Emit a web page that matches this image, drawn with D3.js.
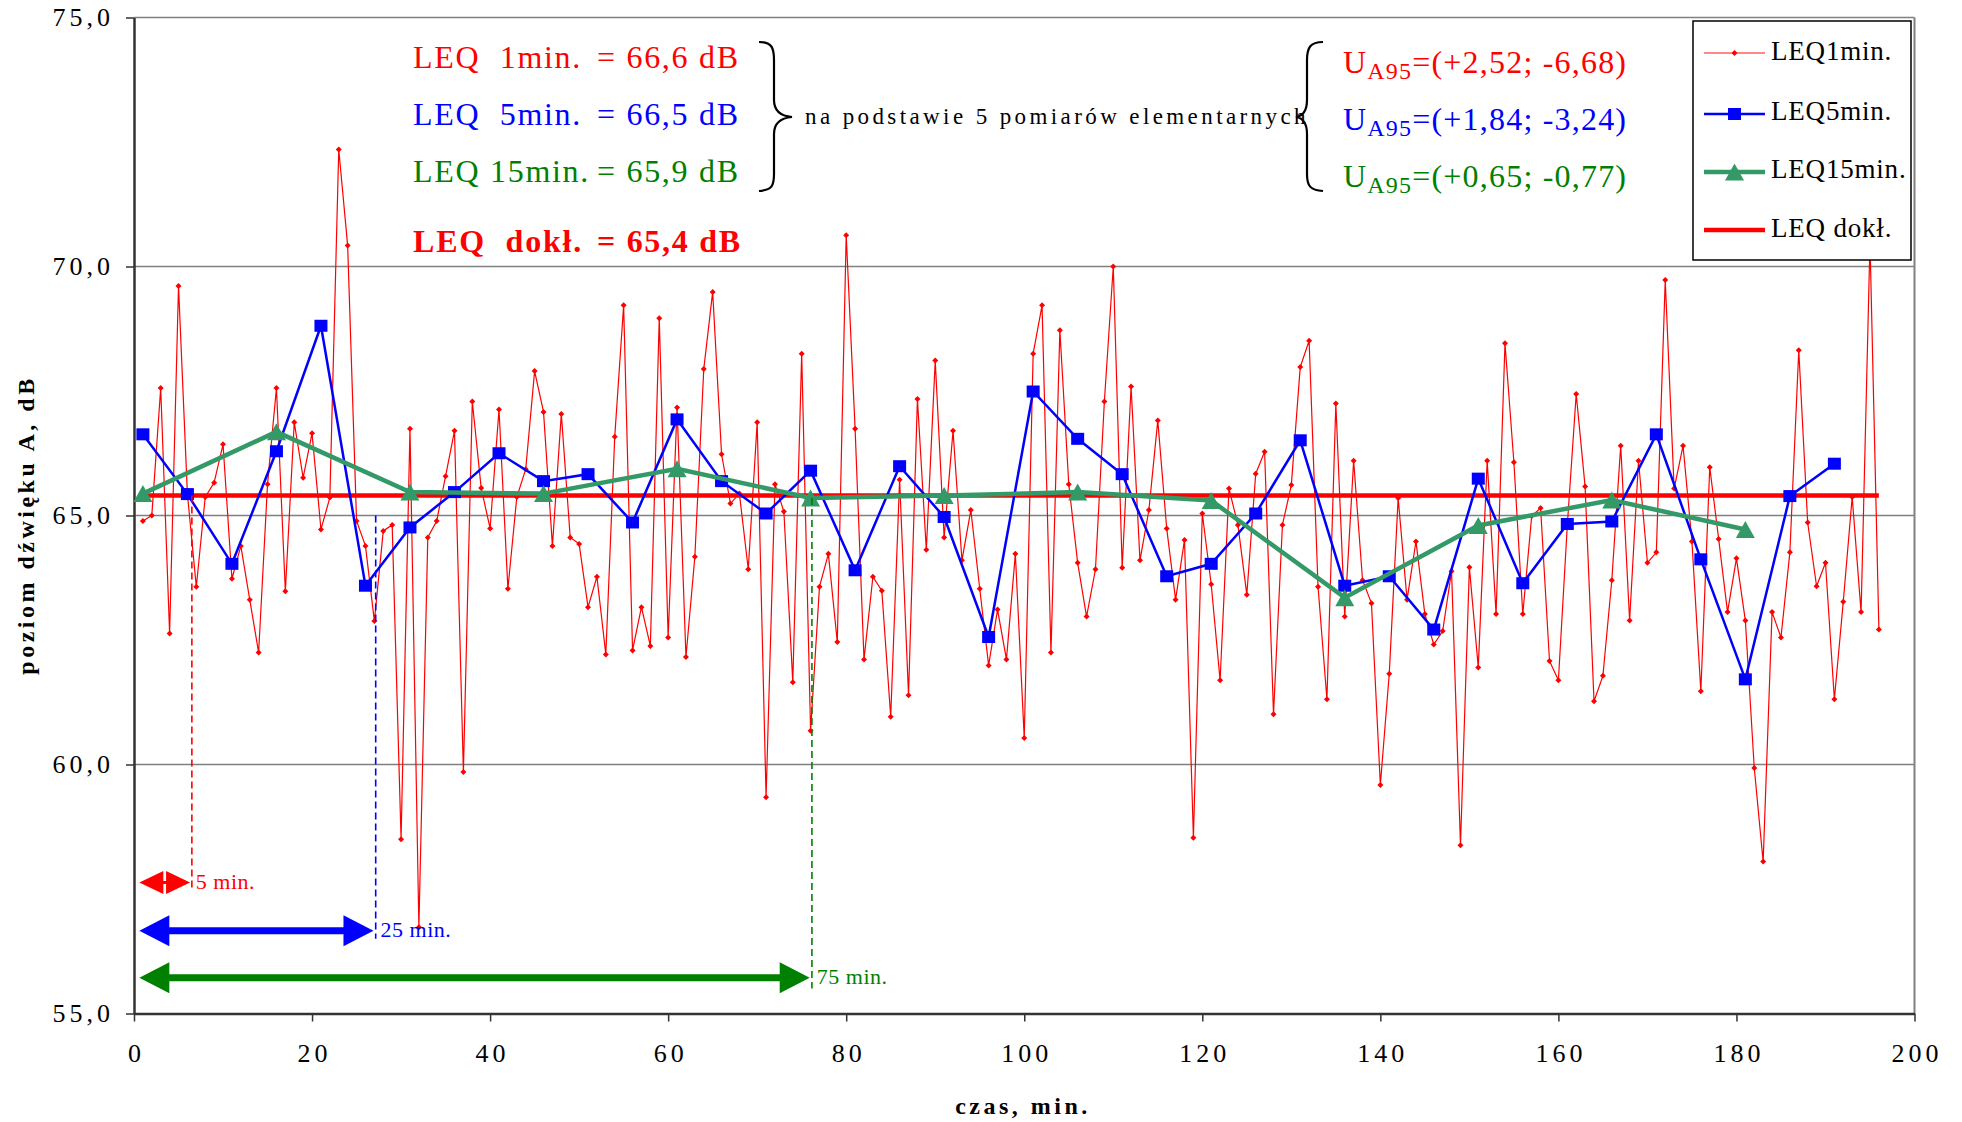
<!DOCTYPE html>
<html><head><meta charset="utf-8">
<script src="https://cdnjs.cloudflare.com/ajax/libs/d3/7.8.5/d3.min.js"></script>
<style>
html,body{margin:0;padding:0;background:#fff;}
svg{display:block;}
text{font-family:"Liberation Serif","Times New Roman",serif;white-space:pre;}
</style></head><body>
<svg id="c" width="1962" height="1122"></svg>
<script>
// ---------------- DATA ----------------
// LEQ 1 min. values, minutes 1..196
const leq1Values = [
64.89,65.00,67.56,62.63,69.61,65.43,63.57,65.37,65.66,66.43,
63.73,64.39,63.31,62.25,65.63,67.56,63.48,66.87,65.76,66.65,
64.72,65.36,72.35,70.42,64.89,64.39,62.88,64.69,64.81,58.50,
66.74,56.73,64.56,64.89,65.79,66.70,59.85,67.29,65.55,64.74,
67.13,63.53,65.37,65.93,67.90,67.08,64.39,67.04,64.56,64.43,
63.16,63.77,62.21,66.58,69.22,62.29,63.16,62.38,68.96,62.55,
67.17,62.16,64.17,67.94,69.49,66.23,65.24,65.44,63.92,66.87,
59.34,65.63,65.08,61.65,68.25,60.68,63.57,64.23,62.46,70.63,
66.74,62.11,63.77,63.49,60.96,65.72,61.39,67.34,64.31,68.11,
64.56,66.70,64.10,65.11,63.53,61.99,63.11,62.11,64.23,60.53,
68.25,69.22,62.25,68.72,65.63,64.05,62.97,63.92,67.29,70.00,
63.95,67.59,64.10,65.11,66.91,64.74,63.31,64.51,58.53,65.04,
63.62,61.69,65.54,64.81,63.41,65.84,66.28,61.01,64.81,65.61,
67.98,68.51,63.57,61.31,67.25,62.97,66.10,63.70,63.24,59.59,
61.82,65.35,63.31,64.48,63.02,62.41,62.68,63.88,58.38,63.96,
61.95,66.10,63.02,68.46,66.07,63.02,64.99,65.15,62.08,61.69,
64.80,67.44,65.58,61.27,61.78,63.70,66.40,62.89,66.10,64.05,
64.26,69.73,65.54,66.40,64.48,61.47,65.97,64.53,63.06,64.14,
62.89,59.93,58.05,63.06,62.55,64.26,68.32,64.86,63.58,64.05,
61.31,63.27,65.37,63.06,70.50,62.71];
const leq1FirstMinute = 1;

// LEQ 5 min.
const leq5Minutes = [1,6,11,16,21,26,31,36,41,46,51,56,61,66,71,76,81,86,91,96,101,106,111,116,121,126,131,136,141,146,151,156,161,166,171,176,181,186,191];
const leq5Values  = [66.63,65.43,64.03,66.29,68.81,63.59,64.76,65.47,66.25,65.69,65.83,64.86,66.93,65.69,65.04,65.90,63.90,65.99,64.97,62.56,67.49,66.54,65.83,63.78,64.03,65.04,66.51,63.59,63.78,62.71,65.74,63.64,64.83,64.88,66.63,64.12,61.71,65.39,66.04];

// LEQ 15 min.
const leq15Minutes = [1,16,31,46,61,76,91,106,121,136,151,166,181];
const leq15Values  = [65.44,66.68,65.47,65.44,65.94,65.35,65.40,65.47,65.30,63.35,64.80,65.31,64.72];

// LEQ dokł.
const leqExact = 65.4;
const leqExactRange = [1,196];

// axes
const yTicks = [55,60,65,70,75];
const xTicks = [0,20,40,60,80,100,120,140,160,180,200];
const xTitle = "czas, min.";
const yTitle = "poziom dźwięku A, dB";

const legendLabels = ["LEQ1min.","LEQ5min.","LEQ15min.","LEQ dokł."];
const summaryLabels = ["LEQ  1min.","LEQ  5min.","LEQ 15min.","LEQ  dokł."];
const summaryValues = ["= 66,6 dB","= 66,5 dB","= 65,9 dB","= 65,4 dB"];
const braceText = "na podstawie 5 pomiarów elementarnych";
const uncertainties = ["=(+2,52; -6,68)","=(+1,84; -3,24)","=(+0,65; -0,77)"];
const intervalLabels = ["5 min.","25 min.","75 min."];

// ---------------- DRAW ----------------
const RED="#ff0000", BLUE="#0000ff", GREEN="#339966", TGREEN="#008000";
const svg = d3.select('#c');
const x = d3.scaleLinear().domain([0,200]).range([134,1914.5]);
const y = d3.scaleLinear().domain([55,75]).range([1013.5,17.5]);
const fmt = d => d.toFixed(1).replace('.', ',');

// grid
svg.append('g').selectAll('line').data(yTicks.filter(v=>v>55)).join('line')
  .attr('x1',x(0)).attr('x2',x(200)).attr('y1',d=>y(d)).attr('y2',d=>y(d))
  .attr('stroke','#808080').attr('stroke-width',1.3);
svg.append('line').attr('x1',x(200)).attr('x2',x(200)).attr('y1',y(75)).attr('y2',y(55))
  .attr('stroke','#808080').attr('stroke-width',2);

// axes
const gy = svg.append('g').attr('transform',`translate(${x(0)},0)`)
  .call(d3.axisLeft(y).tickValues(yTicks).tickFormat(fmt).tickSize(8).tickSizeOuter(0).tickPadding(12));
const gx = svg.append('g').attr('transform',`translate(0,${y(55)})`)
  .call(d3.axisBottom(x).tickValues(xTicks).tickFormat(d=>d).tickSize(8).tickSizeOuter(0).tickPadding(22));
[gx,gy].forEach(g=>{
  g.select('.domain').attr('stroke','#333').attr('stroke-width',2.5);
  g.selectAll('.tick line').attr('stroke','#333').attr('stroke-width',1.5);
  g.selectAll('.tick text').attr('font-family','"Liberation Serif","Times New Roman",serif')
    .attr('font-size',26).attr('letter-spacing',4).attr('fill','#000');
});
gx.selectAll('.tick text').attr('dx',2);

// axis titles
svg.append('text').attr('x',1023).attr('y',1114).attr('text-anchor','middle')
  .attr('font-size',24).attr('font-weight','bold').attr('letter-spacing',3.5).text(xTitle);
svg.append('text').attr('transform','translate(34,525) rotate(-90)').attr('text-anchor','middle')
  .attr('font-size',24).attr('font-weight','bold').attr('letter-spacing',3.5).text(yTitle);

// LEQ dokł. line
svg.append('line').attr('x1',x(leqExactRange[0])).attr('x2',x(leqExactRange[1]))
  .attr('y1',y(leqExact)).attr('y2',y(leqExact)).attr('stroke',RED).attr('stroke-width',4.5);

// LEQ 1 min
const line1 = d3.line().x((d,i)=>x(leq1FirstMinute+i)).y(d=>y(d));
svg.append('path').attr('d',line1(leq1Values)).attr('fill','none').attr('stroke',RED).attr('stroke-width',1.2);
const diamond = 'M0,-3L3,0L0,3L-3,0Z';
svg.append('g').selectAll('path').data(leq1Values).join('path')
  .attr('d',diamond).attr('transform',(d,i)=>`translate(${x(leq1FirstMinute+i)},${y(d)})`).attr('fill',RED);

// LEQ 5 min
const pts5 = leq5Minutes.map((m,i)=>[m,leq5Values[i]]);
const lineXY = d3.line().x(d=>x(d[0])).y(d=>y(d[1]));
svg.append('path').attr('d',lineXY(pts5)).attr('fill','none').attr('stroke',BLUE).attr('stroke-width',2.5);
svg.append('g').selectAll('rect').data(pts5).join('rect')
  .attr('x',d=>x(d[0])-6.5).attr('y',d=>y(d[1])-6).attr('width',13).attr('height',12).attr('fill',BLUE);

// LEQ 15 min
const pts15 = leq15Minutes.map((m,i)=>[m,leq15Values[i]]);
svg.append('path').attr('d',lineXY(pts15)).attr('fill','none').attr('stroke',GREEN).attr('stroke-width',4.5);
const tri = 'M0,-8.5L9.5,8.5L-9.5,8.5Z';
svg.append('g').selectAll('path').data(pts15).join('path')
  .attr('d',tri).attr('transform',d=>`translate(${x(d[0])},${y(d[1])})`).attr('fill',GREEN);

// dashed interval markers
const dashes = [
  {xv:6.5, y1:65.4, y2:57.45, c:RED},
  {xv:27.15, y1:65.0, y2:56.5, c:BLUE},
  {xv:76.15, y1:65.35, y2:55.5, c:TGREEN}
];
svg.append('g').selectAll('line').data(dashes).join('line')
  .attr('x1',d=>x(d.xv)).attr('x2',d=>x(d.xv)).attr('y1',d=>y(d.y1)).attr('y2',d=>y(d.y2))
  .attr('stroke',d=>d.c).attr('stroke-width',1.6).attr('stroke-dasharray','7,4');

// double arrows
function arrow(x1,x2,yc,hl,hh,sw){
  return `M${x1},${yc}L${x1+hl},${yc-hh/2}L${x1+hl},${yc-sw/2}L${x2-hl},${yc-sw/2}L${x2-hl},${yc-hh/2}L${x2},${yc}`+
         `L${x2-hl},${yc+hh/2}L${x2-hl},${yc+sw/2}L${x1+hl},${yc+sw/2}L${x1+hl},${yc+hh/2}Z`;
}
const arrows = [
  {x1:0.6, x2:6.3, yv:57.63, hl:24, hh:23, sw:3, c:RED, label:intervalLabels[0], lx:6.95},
  {x1:0.6, x2:26.9, yv:56.66, hl:30, hh:31, sw:7, c:BLUE, label:intervalLabels[1], lx:27.7},
  {x1:0.6, x2:75.9, yv:55.72, hl:30, hh:31, sw:7, c:TGREEN, label:intervalLabels[2], lx:76.7}
];
arrows.forEach(a=>{
  svg.append('path').attr('d',arrow(x(a.x1),x(a.x2),y(a.yv),a.hl,a.hh,a.sw)).attr('fill',a.c);
  svg.append('text').attr('x',x(a.lx)).attr('y',y(a.yv)+6).attr('font-size',22).attr('letter-spacing',0.5)
    .attr('fill',a.c).text(a.label);
});

// summary texts
const sumColors = [RED,BLUE,TGREEN,RED];
const sumBase = [68,125,182,252];
summaryLabels.forEach((t,i)=>{
  const bold = i===3 ? 'bold' : 'normal';
  svg.append('text').attr('x',413).attr('y',sumBase[i]).attr('font-size',32).attr('font-weight',bold)
    .attr('letter-spacing',i===3?1.8:1.7).attr('fill',sumColors[i]).attr('xml:space','preserve').text(t);
  svg.append('text').attr('x',597).attr('y',sumBase[i]).attr('font-size',32).attr('font-weight',bold)
    .attr('letter-spacing',i===3?1.7:1.7).attr('fill',sumColors[i]).attr('xml:space','preserve').text(summaryValues[i]);
});
svg.append('text').attr('x',805).attr('y',124).attr('font-size',23).attr('letter-spacing',3.4).attr('fill','#000').text(braceText);

// braces
svg.append('path').attr('d','M759,42C772,42 774,48 774,60L774,100C774,111 780,116 792,117C780,118 774,123 774,134L774,174C774,186 772,190 759,191')
  .attr('fill','none').attr('stroke','#000').attr('stroke-width',2.2);
svg.append('path').attr('d','M1323,42C1310,42 1307,48 1307,60L1307,100C1307,111 1302,116 1296,117C1302,118 1307,123 1307,134L1307,174C1307,186 1310,190 1323,191')
  .attr('fill','none').attr('stroke','#000').attr('stroke-width',2.2);

// uncertainty texts
const uColors=[RED,BLUE,TGREEN];
const uBase=[73,130,187];
uncertainties.forEach((t,i)=>{
  const tx = svg.append('text').attr('x',1343).attr('y',uBase[i]).attr('font-size',32).attr('letter-spacing',1.2).attr('fill',uColors[i]);
  tx.append('tspan').text('U');
  tx.append('tspan').attr('font-size',24).attr('dy',6).text('A95');
  tx.append('tspan').attr('dy',-6).text(t);
});

// legend
const lg = svg.append('g');
lg.append('rect').attr('x',1693).attr('y',21).attr('width',218).attr('height',239)
  .attr('fill','#fff').attr('stroke','#000').attr('stroke-width',1.5);
const rowY=[53,114,172,230], textY=[60,120,178,237];
const lx1=1704, lx2=1765, lxm=(lx1+lx2)/2;
lg.append('line').attr('x1',lx1).attr('x2',lx2).attr('y1',rowY[0]).attr('y2',rowY[0]).attr('stroke','#ff6060').attr('stroke-width',1.5);
lg.append('path').attr('d',diamond).attr('transform',`translate(${lxm},${rowY[0]})`).attr('fill',RED);
lg.append('line').attr('x1',lx1).attr('x2',lx2).attr('y1',rowY[1]).attr('y2',rowY[1]).attr('stroke',BLUE).attr('stroke-width',2.5);
lg.append('rect').attr('x',lxm-6.5).attr('y',rowY[1]-6).attr('width',13).attr('height',12).attr('fill',BLUE);
lg.append('line').attr('x1',lx1).attr('x2',lx2).attr('y1',rowY[2]).attr('y2',rowY[2]).attr('stroke',GREEN).attr('stroke-width',4.5);
lg.append('path').attr('d',tri).attr('transform',`translate(${lxm},${rowY[2]})`).attr('fill',GREEN);
lg.append('line').attr('x1',lx1).attr('x2',lx2).attr('y1',rowY[3]).attr('y2',rowY[3]).attr('stroke',RED).attr('stroke-width',4.5);
legendLabels.forEach((t,i)=>{
  lg.append('text').attr('x',1771).attr('y',textY[i]).attr('font-size',27).attr('letter-spacing',0.8).attr('fill','#000').text(t);
});
</script>
</body></html>
